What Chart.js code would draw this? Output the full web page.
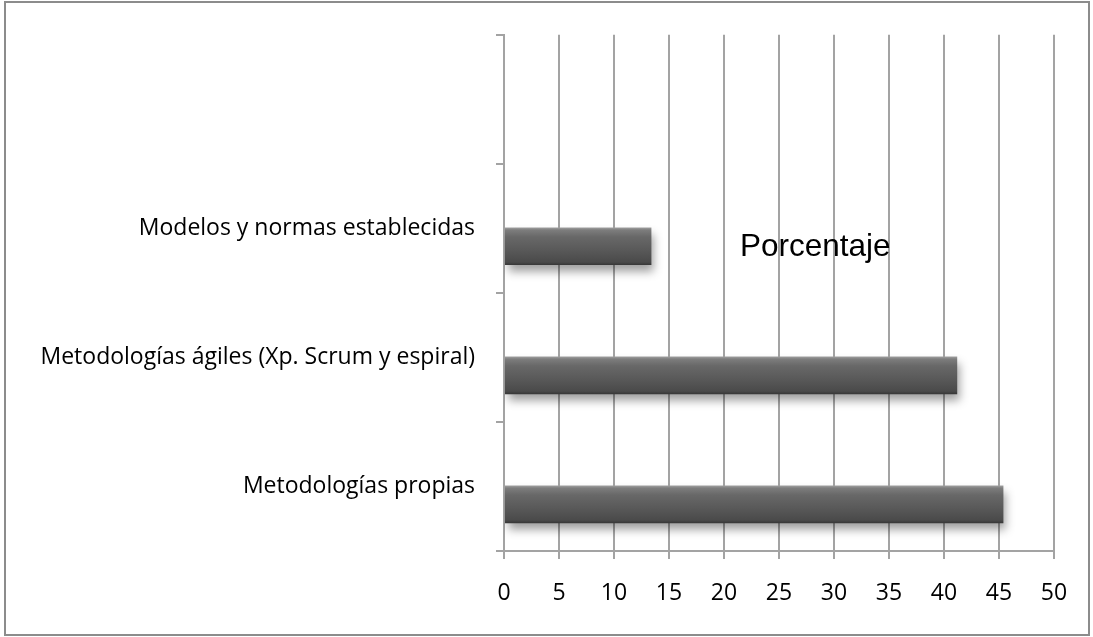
<!DOCTYPE html>
<html>
<head>
<meta charset="utf-8">
<script src="https://cdn.jsdelivr.net/npm/chart.js@4/dist/chart.umd.min.js"></script>
<style>
  html, body { margin: 0; padding: 0; background: #ffffff; }
  #wrap { position: relative; width: 1093px; height: 637px; overflow: hidden; }
  #frame { position: absolute; left: 4px; top: 1px; width: 1082px; height: 631px; border: 2px solid #8c8c8c; pointer-events: none; }
  canvas { position: absolute; left: 0; top: 0; }
</style>
</head>
<body>
<div id="wrap">
  <canvas id="chart" width="1093" height="637"></canvas>
  <div id="frame"></div>
</div>
<script>
// Categories, top to bottom (the first slot is left empty)
const categories = ['', 'Modelos y normas establecidas', 'Metodologías ágiles (Xp. Scrum y espiral)', 'Metodologías propias'];
// Percentage per category
const porcentaje = [null, 13.4, 41.2, 45.4];
// Spacer series that keeps the bars in the lower half of each slot
const spacer = [null, null, null, null];
// Value axis ticks
const xTicks = [0, 5, 10, 15, 20, 25, 30, 35, 40, 45, 50];
const chartTitle = 'Porcentaje';

const CAT_PCT = 0.554;
const BAR_PCT = 1.055;
const labelFont = { family: 'Open Sans', size: 23 };
const gridGray = '#a3a3a3';

// Vertical shading across each bar, computed from the category scale
function barGradient(c) {
  const chart = c.chart;
  const ys = chart.scales && chart.scales.y;
  if (c.type !== 'data' || !ys || !ys.ticks || !ys.ticks.length) return '#5a5a5a';
  const cat = ys.height / ys.ticks.length;
  const center = ys.getPixelForValue(c.dataIndex) + cat * CAT_PCT / 4;
  const thick = cat * CAT_PCT / 2 * BAR_PCT;
  const top = center - thick / 2;
  const g = chart.ctx.createLinearGradient(0, top, 0, top + thick);
  g.addColorStop(0, '#a2a2a2');
  g.addColorStop(0.07, '#7d7d7d');
  g.addColorStop(0.25, '#686868');
  g.addColorStop(0.6, '#595959');
  g.addColorStop(0.92, '#4a4a4a');
  g.addColorStop(1, '#363636');
  return g;
}

// Soft drop shadow under the bars
const barShadow = {
  id: 'barShadow',
  beforeDatasetDraw(chart, args) {
    if (args.index !== 1) return;
    const ctx = chart.ctx;
    ctx.save();
    ctx.shadowColor = 'rgba(0,0,0,0.38)';
    ctx.shadowBlur = 9;
    ctx.shadowOffsetX = 3;
    ctx.shadowOffsetY = 7;
  },
  afterDatasetDraw(chart, args) {
    if (args.index !== 1) return;
    chart.ctx.restore();
  }
};

// Chart title placed over the plot area
const innerTitle = {
  id: 'innerTitle',
  afterDraw(chart) {
    const ctx = chart.ctx;
    const area = chart.chartArea;
    ctx.save();
    ctx.font = '31.5px "Liberation Sans", Arial, sans-serif';
    ctx.fillStyle = '#000000';
    ctx.textAlign = 'center';
    ctx.textBaseline = 'alphabetic';
    ctx.fillText(chartTitle, area.left + (area.right - area.left) * 0.566, area.top + 221);
    ctx.restore();
  }
};

new Chart(document.getElementById('chart'), {
  type: 'bar',
  data: {
    labels: categories,
    datasets: [
      { label: '', data: spacer, backgroundColor: 'rgba(0,0,0,0)' },
      { label: chartTitle, data: porcentaje, backgroundColor: barGradient, borderWidth: 0 }
    ]
  },
  options: {
    indexAxis: 'y',
    responsive: false,
    animation: false,
    categoryPercentage: CAT_PCT,
    barPercentage: BAR_PCT,
    layout: { padding: { top: 31, right: 39, left: 10, bottom: 0 } },
    plugins: {
      legend: { display: false },
      title: { display: false },
      tooltip: { enabled: false }
    },
    scales: {
      x: {
        type: 'linear',
        min: 0,
        max: 50,
        afterBuildTicks(scale) { scale.ticks = xTicks.map(v => ({ value: v })); },
        afterFit(scale) { scale.height = 86; },
        grid: { color: gridGray, lineWidth: 2, drawTicks: true, tickLength: 8, tickColor: gridGray },
        border: { color: gridGray, width: 2 },
        ticks: { color: '#000000', font: labelFont, padding: 21, maxRotation: 0 }
      },
      y: {
        type: 'category',
        offset: true,
        afterFit(scale) { scale.width = 494; },
        grid: { display: true, drawOnChartArea: false, drawTicks: true, tickLength: 8, color: gridGray, lineWidth: 2, offset: true },
        border: { color: gridGray, width: 2 },
        ticks: { color: '#000000', font: labelFont, padding: 21 }
      }
    }
  },
  plugins: [barShadow, innerTitle]
});
</script>
</body>
</html>
